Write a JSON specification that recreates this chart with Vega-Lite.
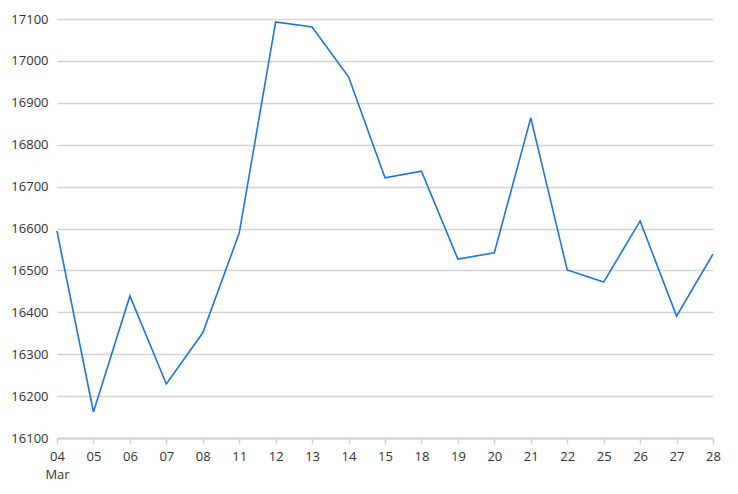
{
  "$schema": "https://vega.github.io/schema/vega-lite/v6.json",
  "width": 656,
  "height": 419,
  "autosize": {"type": "none"},
  "padding": {"left": 57, "top": 19, "right": 25, "bottom": 56},
  "background": "white",
  "config": {"view": {"stroke": null}, "font": "Open Sans"},
  "data": {
    "values": [
      {"day": "04", "value": 16594},
      {"day": "05", "value": 16162},
      {"day": "06", "value": 16439},
      {"day": "07", "value": 16229},
      {"day": "08", "value": 16351},
      {"day": "11", "value": 16589},
      {"day": "12", "value": 17093},
      {"day": "13", "value": 17081},
      {"day": "14", "value": 16962},
      {"day": "15", "value": 16721},
      {"day": "18", "value": 16737},
      {"day": "19", "value": 16527},
      {"day": "20", "value": 16542},
      {"day": "21", "value": 16864},
      {"day": "22", "value": 16501},
      {"day": "25", "value": 16472},
      {"day": "26", "value": 16618},
      {"day": "27", "value": 16391},
      {"day": "28", "value": 16539}
    ]
  },
  "mark": {"type": "line", "color": "#1a73f0", "strokeWidth": 1.6},
  "encoding": {
    "x": {
      "field": "day",
      "type": "ordinal",
      "sort": null,
      "scale": {"type": "point", "padding": 0},
      "axis": {
        "title": null,
        "labelAngle": 0,
        "labelFontSize": 13,
        "labelColor": "#333333",
        "labelPadding": 6,
        "labelLineHeight": 18,
        "labelExpr": "datum.label == '04' ? ['04', 'Mar'] : datum.label",
        "domainColor": "#d3d3d3",
        "domainWidth": 2,
        "tickColor": "#d3d3d3",
        "tickWidth": 1.5,
        "tickSize": 6,
        "grid": false
      }
    },
    "y": {
      "field": "value",
      "type": "quantitative",
      "scale": {"domain": [16100, 17100], "nice": false, "zero": false},
      "axis": {
        "title": null,
        "values": [16100, 16200, 16300, 16400, 16500, 16600, 16700, 16800, 16900, 17000, 17100],
        "format": "d",
        "labelFontSize": 13,
        "labelColor": "#333333",
        "labelPadding": 9,
        "domain": false,
        "ticks": false,
        "grid": true,
        "gridColor": "#d3d3d3",
        "gridWidth": 1.5
      }
    }
  }
}
